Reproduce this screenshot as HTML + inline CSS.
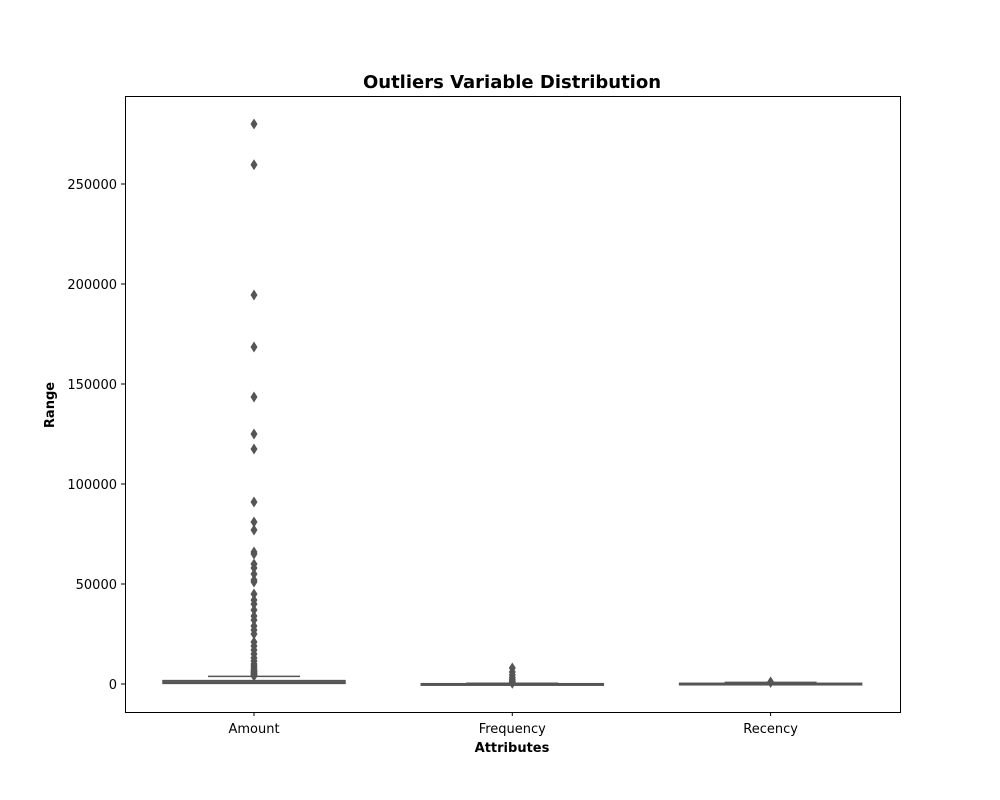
<!DOCTYPE html>
<html><head><meta charset="utf-8"><style>
body{margin:0;background:#fff}
svg{display:block;font-family:"DejaVu Sans","Liberation Sans",sans-serif}
</style></head><body>
<svg id="chart" width="1000" height="800">
<text x="512" y="88" text-anchor="middle" font-size="18" font-weight="bold">Outliers Variable Distribution</text>
<text x="512" y="752" text-anchor="middle" font-size="13" font-weight="bold">Attributes</text>
<text transform="translate(54,405) rotate(-90)" text-anchor="middle" font-size="13" font-weight="bold">Range</text>
<g id="marks"></g>
<rect x="125.5" y="96.5" width="775" height="616" fill="none" stroke="#000" stroke-width="1"/>
</svg>
<script>
const categories=["Amount","Frequency","Recency"];
const q1=[300,5,20];
const medians=[900,60,100];
const q3=[1700,150,350];
const whiskLow=[0,0,0];
const whiskHigh=[3800,350,800];
const outAmount=[280000,259600,194500,168500,143500,125000,117500,91000,81000,77000,66000,65000,60000,58000,55000,52000,51000,45000,42000,40000,37000,34000,32000,29000,27000,25000,21000,19000,17000,15000,13000,11500,10000,9000,8000,7000,6500,6000,5500,5000,4500,4200,4000];
const outFrequency=[8000,6000,4500,3200,2200,1500,1000,600,400];
const outRecency=[1000,900,850];
const outliers=[outAmount,outFrequency,outRecency];
const yTicks=[0,50000,100000,150000,200000,250000];
const ns="http://www.w3.org/2000/svg";
const svg=document.getElementById('chart');
const g=document.getElementById('marks');
const y=v=>684-v*0.002;
const xc=i=>254+i*258.3;
function el(t,a,p){const e=document.createElementNS(ns,t);for(const k in a)e.setAttribute(k,a[k]);(p||g).appendChild(e);return e;}
yTicks.forEach(t=>{
 const l=el('line',{x1:121,x2:125,y1:y(t),y2:y(t),stroke:'#000'},svg);
 
 
 const tx=el('text',{x:117,y:y(t)+5,'text-anchor':'end','font-size':13},svg);
 tx.textContent=t;
 
 
});
categories.forEach((c,i)=>{
 const x=xc(i);
 const l=el('line',{x1:x,x2:x,y1:712,y2:716,stroke:'#000'},svg);
 
 
 const tx=el('text',{x:x,y:733,'text-anchor':'middle','font-size':13},svg);
 tx.textContent=c;
 
 
 const col='#555';
 const w1=el('line',{x1:x,x2:x,y1:y(q3[i]),y2:y(whiskHigh[i]),stroke:col,'stroke-width':1.5});
 
 
 const cap=el('line',{x1:x-46,x2:x+46,y1:y(whiskHigh[i]),y2:y(whiskHigh[i]),stroke:col,'stroke-width':1.5});
 
 
 const top=y(q3[i]),bot=y(q1[i]);
 const b=el('rect',{x:x-91,y:top,width:182,height:Math.max(bot-top,1.5),fill:'#8a8a8a',stroke:col,'stroke-width':1.5});
 
 
 const m=el('line',{x1:x-91,x2:x+91,y1:y(medians[i]),y2:y(medians[i]),stroke:col,'stroke-width':1.5});
 
 
 outliers[i].forEach(v=>{
  const yy=y(v);
  const d=el('polygon',{points:`${x},${yy-5.5} ${x+3.5},${yy} ${x},${yy+5.5} ${x-3.5},${yy}`,fill:col});
  
  
 });
});
</script>
</body></html>
